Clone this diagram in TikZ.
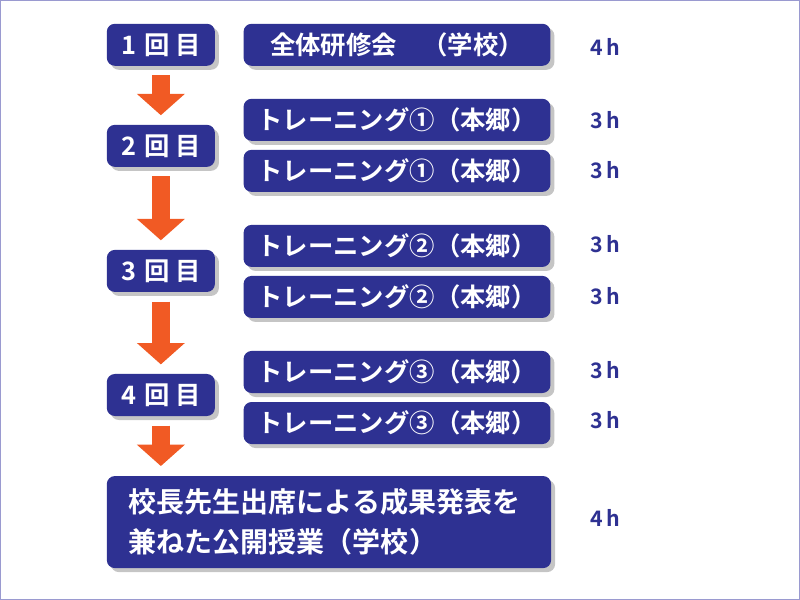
\documentclass[tikz,border=0pt]{standalone}
\usepackage{fontspec}
\setmainfont{Noto Sans CJK JP}[BoldFont={Noto Sans CJK JP Bold}]
\usetikzlibrary{arrows.meta,shadows}
\definecolor{navy}{HTML}{2E3192}
\definecolor{org}{HTML}{F15A24}
\definecolor{frame}{HTML}{9A9AD0}
\begin{document}
\begin{tikzpicture}[x=0.75pt,y=-0.75pt,
  box/.style={fill=navy,rounded corners=6pt,text=white,font=\bfseries\fontsize{19}{22}\selectfont,
    drop shadow={opacity=0.45,shadow xshift=3pt,shadow yshift=-3pt},inner sep=0pt},
  lbox/.style={box,minimum width=81pt,minimum height=31.5pt},
  rbox/.style={box,minimum width=230pt,minimum height=31.5pt},
  hr/.style={text=navy,font=\bfseries\fontsize{16}{18}\selectfont},
  arr/.style={draw=org,line width=13.5pt,-{Triangle[width=35pt,length=16pt]},shorten <=7pt,shorten >=7pt}]
\draw[frame,fill=white] (0.5,0.5) rectangle (799.5,599.5);
\node[lbox] (l1) at (161,45) {1\hspace{0.35em}回\hspace{0.2em}目};
\node[lbox] (l2) at (161,146) {2\hspace{0.35em}回\hspace{0.2em}目};
\node[lbox] (l3) at (161,271) {3\hspace{0.35em}回\hspace{0.2em}目};
\node[lbox] (l4) at (161,395) {4\hspace{0.35em}回\hspace{0.2em}目};
\node[rbox] (r1) at (397,45) {全体研修会　（学校）};
\node[rbox] (r2) at (397,120) {トレーニング①（本郷）};
\node[rbox] (r3) at (397,171) {トレーニング①（本郷）};
\node[rbox] (r4) at (397,246) {トレーニング②（本郷）};
\node[rbox] (r5) at (397,297) {トレーニング②（本郷）};
\node[rbox] (r6) at (397,372) {トレーニング③（本郷）};
\node[rbox] (r7) at (397,423) {トレーニング③（本郷）};
\node[box,minimum width=333pt,minimum height=69pt,text width=300pt,align=left,font=\bfseries\fontsize{21}{30}\selectfont] (b) at (329,522)
  {校長先生出席による成果発表を\\兼ねた公開授業（学校）};
\coordinate (e) at (161,466);
\draw[arr] (l1) -- (l2);
\draw[arr] (l2) -- (l3);
\draw[arr] (l3) -- (l4);
\draw[arr,shorten >=0pt] (l4) -- (e);
\node[hr] (h1) at (605,47) {4\,h};
\node[hr] (h2) at (605,120) {3\,h};
\node[hr] (h3) at (605,170) {3\,h};
\node[hr] (h4) at (605,244) {3\,h};
\node[hr] (h5) at (605,296) {3\,h};
\node[hr] (h6) at (605,370) {3\,h};
\node[hr] (h7) at (605,420) {3\,h};
\node[hr] (h8) at (605,518) {4\,h};
\end{tikzpicture}
\end{document}
